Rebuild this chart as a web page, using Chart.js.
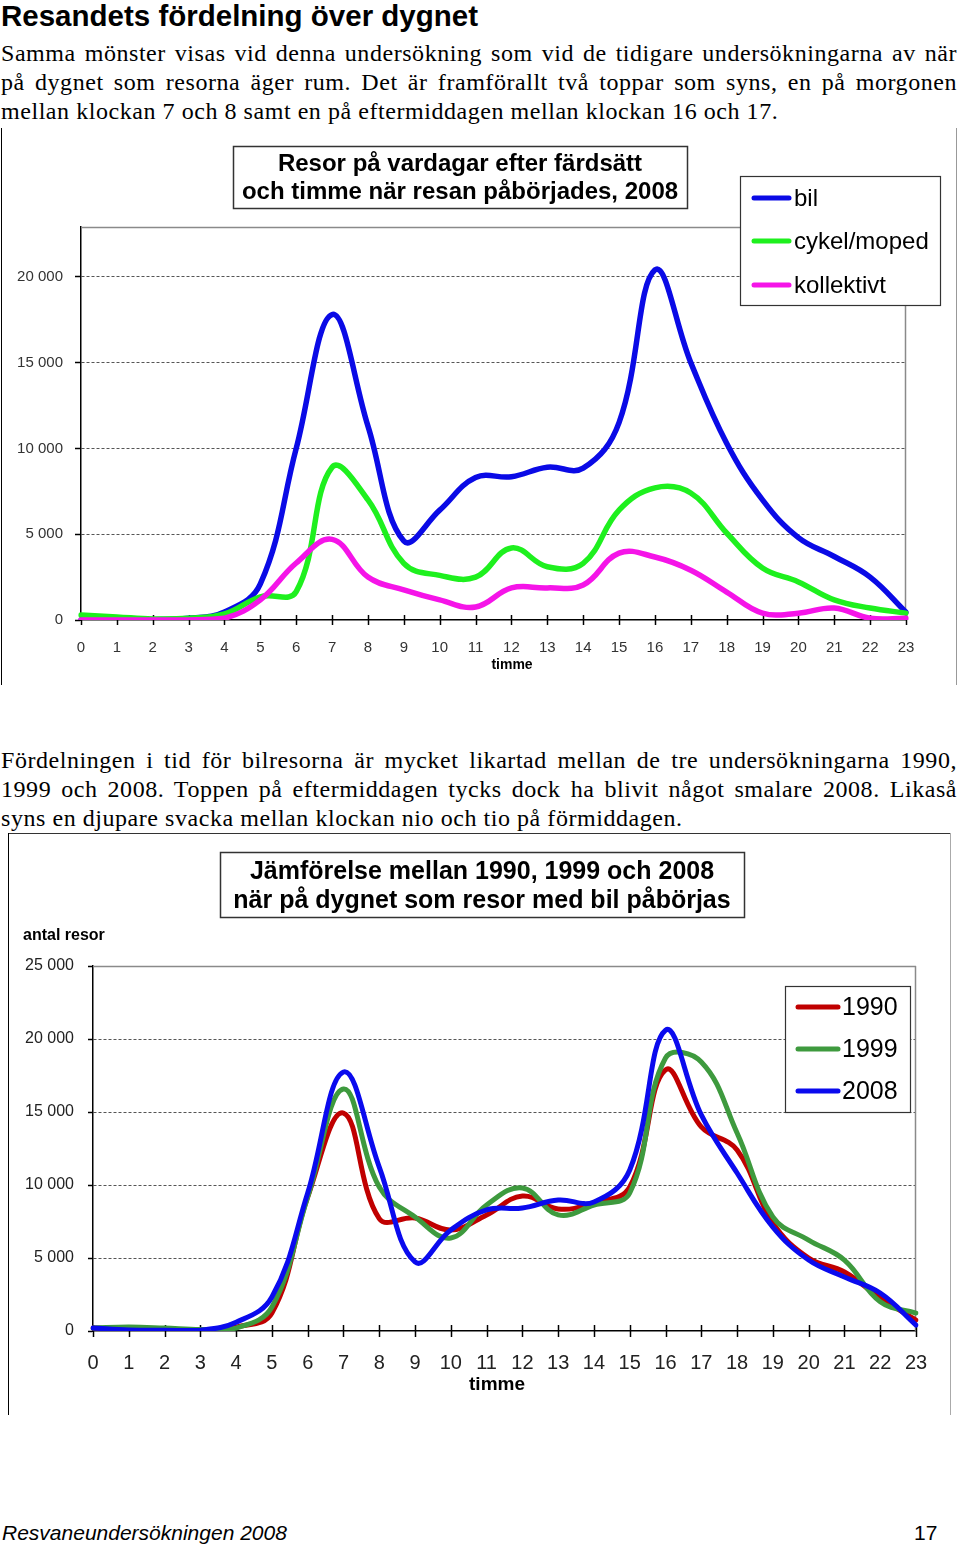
<!DOCTYPE html>
<html><head><meta charset="utf-8">
<script src="https://cdn.jsdelivr.net/npm/chart.js@4.4.1/dist/chart.umd.min.js"></script>
<style>
html,body{margin:0;padding:0;}
body{width:960px;height:1547px;position:relative;background:#fff;overflow:hidden;color:#000;}
.h1{position:absolute;left:1px;top:0px;margin:0;font:bold 29.5px "Liberation Sans",Arial,sans-serif;line-height:32px;white-space:nowrap;}
.ln{position:absolute;left:1px;width:956px;height:29px;font:24px "Liberation Serif","Times New Roman",serif;letter-spacing:0.55px;line-height:29px;text-align:justify;text-align-last:justify;white-space:nowrap;}
.ln.last{text-align:left;text-align-last:left;}
.wrap{position:absolute;left:0;width:960px;}
.vl{position:absolute;width:1px;}
.hl{position:absolute;height:1px;}
.foot{position:absolute;top:1520px;font:italic 21px "Liberation Sans",Arial,sans-serif;line-height:26px;}
.pg{position:absolute;top:1520px;left:914px;font:21px "Liberation Sans",Arial,sans-serif;line-height:26px;}
</style>
</head><body>
<div class="h1">Resandets fördelning över dygnet</div>
<div class="ln" style="top:39px">Samma mönster visas vid denna undersökning som vid de tidigare undersökningarna av när</div>
<div class="ln" style="top:68px">på dygnet som resorna äger rum. Det är framförallt två toppar som syns, en på morgonen</div>
<div class="ln last" style="top:97px">mellan klockan 7 och 8 samt en på eftermiddagen mellan klockan 16 och 17.</div>

<div class="vl" style="left:1px;top:128px;height:557px;background:#000"></div>
<div class="vl" style="left:956px;top:128px;height:557px;background:#999"></div>
<div class="wrap" style="top:128px;height:560px;"><canvas id="c1" width="960" height="560"></canvas></div>

<div class="ln" style="top:746px">Fördelningen i tid för bilresorna är mycket likartad mellan de tre undersökningarna 1990,</div>
<div class="ln" style="top:775px">1999 och 2008. Toppen på eftermiddagen tycks dock ha blivit något smalare 2008. Likaså</div>
<div class="ln last" style="top:804px">syns en djupare svacka mellan klockan nio och tio på förmiddagen.</div>

<div class="hl" style="left:8px;top:833px;width:943px;background:#333"></div>
<div class="vl" style="left:8px;top:833px;height:582px;background:#000"></div>
<div class="vl" style="left:950px;top:833px;height:582px;background:#aaa"></div>
<div class="wrap" style="top:834px;height:590px;"><canvas id="c2" width="960" height="590"></canvas></div>

<div class="foot" style="left:2px">Resvaneundersökningen 2008</div>
<div class="pg">17</div>

<script>
// ---------- data ----------
const hours = ['0','1','2','3','4','5','6','7','8','9','10','11','12','13','14','15','16','17','18','19','20','21','22','23'];

const title1 = ['Resor på vardagar efter färdsätt', 'och timme när resan påbörjades, 2008'];
const modeLabels = ['bil', 'cykel/moped', 'kollektivt'];
const yTicks1 = [0, 5000, 10000, 15000, 20000];
const bil        = [0, 30, 20, 100, 470, 2100, 10000, 17800, 11300, 4600, 6400, 8300, 8350, 8900, 8850, 11500, 20400, 15000, 10300, 7000, 4800, 3700, 2500, 450];
const cykelMoped = [290, 180, 60, 100, 350, 1350, 1650, 8900, 7000, 3300, 2600, 2500, 4200, 3100, 3300, 6400, 7700, 7400, 5070, 3030, 2220, 1170, 700, 400];
const kollektivt = [0, 0, 0, 0, 100, 1170, 3320, 4700, 2500, 1750, 1170, 760, 1870, 1870, 2040, 3900, 3670, 2900, 1630, 400, 400, 700, 100, 100];

const title2 = ['Jämförelse mellan 1990, 1999 och 2008', 'när på dygnet som resor med bil påbörjas'];
const yearLabels = ['1990', '1999', '2008'];
const yTicks2 = [0, 5000, 10000, 15000, 20000, 25000];
const y1990 = [200, 100, 80, 50, 270, 1230, 9180, 14930, 7700, 7740, 6920, 7950, 9250, 8360, 8770, 9860, 17880, 13980, 12400, 7400, 5000, 4040, 2260, 750];
const y1999 = [200, 270, 200, 100, 200, 1640, 9180, 16580, 9860, 7810, 6370, 8630, 9800, 7950, 8630, 9450, 18700, 18430, 13560, 7810, 6230, 4860, 2000, 1230];
const y2008 = [200, 70, 50, 50, 600, 2330, 9450, 17740, 11230, 4730, 6920, 8290, 8430, 8970, 8840, 11030, 20600, 14800, 10820, 7120, 4860, 3700, 2600, 410];

// ---------- helpers ----------
const SANS = '"Liberation Sans", Arial, sans-serif';
function fmt(v){ if (v === 0) return '0'; return (v/1000) + ' 000'; }

function line(ctx, x1, y1, x2, y2, color, w){
  ctx.save(); ctx.strokeStyle = color; ctx.lineWidth = w; ctx.beginPath();
  ctx.moveTo(x1, y1); ctx.lineTo(x2, y2); ctx.stroke(); ctx.restore();
}

function makeDecor(cfg){
  return {
    id: 'decor',
    beforeDatasetsDraw(chart){
      const ctx = chart.ctx, a = chart.chartArea;
      line(ctx, a.left, a.top + 0.5, a.right, a.top + 0.5, '#8a8a8a', 1.5);
      line(ctx, a.right - 0.5, a.top, a.right - 0.5, a.bottom, '#8a8a8a', 1.5);
      const xs = chart.scales.x;
      ctx.save(); ctx.strokeStyle = '#000'; ctx.lineWidth = 1.5;
      for (let i = 0; i < hours.length; i++){
        const px = Math.round(xs.getPixelForValue(i)) + 0.5;
        ctx.beginPath(); ctx.moveTo(px, a.bottom - cfg.tickUp); ctx.lineTo(px, a.bottom + cfg.tickDown); ctx.stroke();
      }
      ctx.restore();
    },
    afterDraw(chart){
      const ctx = chart.ctx;
      ctx.save();
      const t = cfg.title;
      ctx.fillStyle = '#fff'; ctx.fillRect(t.x, t.y, t.w, t.h);
      ctx.strokeStyle = '#333'; ctx.lineWidth = 1.5; ctx.strokeRect(t.x + 0.5, t.y + 0.5, t.w, t.h);
      ctx.fillStyle = '#000'; ctx.font = 'bold ' + t.size + 'px ' + SANS;
      ctx.textAlign = 'center'; ctx.textBaseline = 'middle';
      t.lines.forEach((s, i) => ctx.fillText(s, t.cx, t.ly[i]));
      const L = cfg.legend;
      ctx.fillStyle = '#fff'; ctx.fillRect(L.x, L.y, L.w, L.h);
      ctx.strokeStyle = '#333'; ctx.lineWidth = 1.2; ctx.strokeRect(L.x + 0.5, L.y + 0.5, L.w, L.h);
      ctx.font = L.size + 'px ' + SANS; ctx.textAlign = 'left'; ctx.textBaseline = 'middle';
      chart.data.datasets.forEach((ds, i) => {
        const yy = L.ey[i];
        ctx.strokeStyle = ds.borderColor; ctx.lineWidth = L.lw; ctx.lineCap = 'round';
        ctx.beginPath(); ctx.moveTo(L.x1, yy); ctx.lineTo(L.x2, yy); ctx.stroke();
        ctx.fillStyle = '#000'; ctx.fillText(ds.label, L.tx, yy + 1);
      });
      ctx.fillStyle = '#000';
      cfg.texts.forEach(tt => {
        ctx.font = tt.font; ctx.textAlign = tt.align; ctx.textBaseline = 'middle';
        ctx.fillText(tt.text, tt.x, tt.y);
      });
      ctx.restore();
    }
  };
}

function makeChart(id, labels, series, colors, orders, o){
  return new Chart(document.getElementById(id), {
    type: 'line',
    data: {
      labels: hours,
      datasets: series.map((d, i) => ({
        label: labels[i], data: d, borderColor: colors[i], backgroundColor: colors[i],
        borderWidth: o.lw, pointRadius: 0, tension: 0.4, fill: false, order: orders[i],
        borderJoinStyle: 'round', borderCapStyle: 'round'
      }))
    },
    options: {
      responsive: false, animation: false, devicePixelRatio: 1,
      layout: { padding: o.padding },
      plugins: { legend: { display: false }, title: { display: false }, tooltip: { enabled: false } },
      scales: {
        x: {
          type: 'category',
          grid: { display: true, drawOnChartArea: false, drawTicks: false },
          border: { display: true, color: '#000', width: 1.5 },
          ticks: { color: o.tickColor, font: { family: SANS, size: o.xFont }, padding: o.xPad, maxRotation: 0, autoSkip: false },
          afterFit: s => { s.height = 50; }
        },
        y: {
          min: 0, max: o.ymax,
          afterBuildTicks: s => { s.ticks = o.yTicks.map(v => ({ value: v })); },
          afterFit: s => { s.width = o.yWidth; },
          grid: {
            drawTicks: true, tickLength: o.yTickLen, tickColor: '#000', tickWidth: 1.5, lineWidth: 1,
            color: c => (c.tick && (c.tick.value === 0 || c.tick.value >= o.ymax)) ? 'rgba(0,0,0,0)' : '#555'
          },
          border: { display: true, color: '#000', width: 1.5, dash: [3, 2] },
          ticks: { autoSkip: false, color: o.tickColor, font: { family: SANS, size: o.yFont }, padding: o.yPad, callback: v => fmt(v) }
        }
      }
    },
    plugins: [makeDecor(o.decor)]
  });
}

// chart 1 (canvas top = 128)
makeChart('c1', modeLabels, [bil, cykelMoped, kollektivt], ['#0a0ae6', '#1ef01e', '#f514e8'], [3, 2, 1], {
  lw: 5.5, ymax: 22900, yTicks: yTicks1, yWidth: 75, yTickLen: 6, yPad: 12, yFont: 15, xFont: 15, xPad: 19, tickColor: '#333',
  padding: { left: 6, right: 54, top: 99, bottom: 18 },
  decor: {
    tickUp: 5, tickDown: 5,
    title: { x: 233, y: 18, w: 454, h: 62, cx: 460, ly: [36, 64], size: 24, lines: title1 },
    legend: { x: 740, y: 48, w: 200, h: 129, ey: [70, 113, 157], x1: 754, x2: 789, tx: 794, lw: 5, size: 24 },
    texts: [ { text: 'timme', x: 512, y: 537, align: 'center', font: 'bold 14px ' + SANS } ]
  }
});

// chart 2 (canvas top = 834)
makeChart('c2', yearLabels, [y1990, y1999, y2008], ['#c00000', '#3e9a3e', '#0a0aee'], [3, 2, 1], {
  lw: 5, ymax: 25000, yTicks: yTicks2, yWidth: 80, yTickLen: 5, yPad: 14, yFont: 16, xFont: 20, xPad: 20, tickColor: '#222',
  padding: { left: 13, right: 44, top: 132, bottom: 43 },
  decor: {
    tickUp: 6, tickDown: 6,
    title: { x: 220, y: 18, w: 524, h: 65, cx: 482, ly: [38, 67], size: 25, lines: title2 },
    legend: { x: 785, y: 152, w: 125, h: 126, ey: [173, 215, 257], x1: 798, x2: 838, tx: 842, lw: 5, size: 25 },
    texts: [
      { text: 'antal resor', x: 23, y: 102, align: 'left', font: 'bold 16px ' + SANS },
      { text: 'timme', x: 497, y: 551, align: 'center', font: 'bold 19px ' + SANS }
    ]
  }
});
</script>
</body></html>
